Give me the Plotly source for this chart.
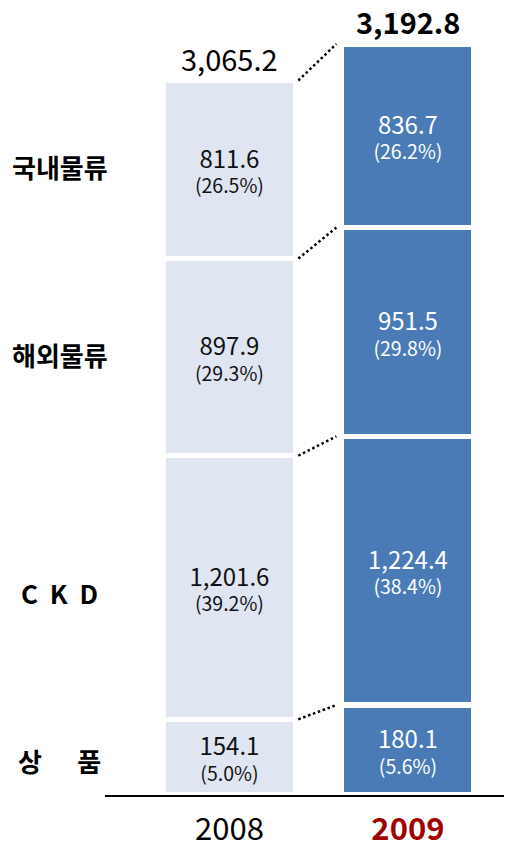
import numpy as np
import plotly.graph_objects as go

# ---------------- data ----------------
years = ["2008", "2009"]
segment_labels = ["상      품", "C  K  D", "해외물류", "국내물류"]  # bottom -> top
goods = [154.1, 180.1]
ckd = [1201.6, 1224.4]
overseas = [897.9, 951.5]
domestic = [811.6, 836.7]
goods_pct = [5.0, 5.6]
ckd_pct = [39.2, 38.4]
overseas_pct = [29.3, 29.8]
domestic_pct = [26.5, 26.2]
totals = [3065.2, 3192.8]
# the small 상품 block is drawn taller than scale in the original chart
goods_drawn = [345, 410]

# ---------------- style ----------------
FONT = "Noto Sans CJK KR"
year_fill = ["#DFE5F1", "#4A7BB7"]
year_text = ["#111111", "#FFFFFF"]
BAR_W = 0.742
x_pos = np.arange(len(years))

segments = [
    (goods_drawn, goods, goods_pct),
    (ckd, ckd, ckd_pct),
    (overseas, overseas, overseas_pct),
    (domestic, domestic, domestic_pct),
]

fig = go.Figure()
heights_all = []
for drawn, vals, pcts in segments:
    heights_all.append(drawn)
    text = [f"<span style='font-size:24px'>{v:,.1f}</span><br>({p:.1f}%)" for v, p in zip(vals, pcts)]
    fig.add_trace(go.Bar(
        x=x_pos, y=drawn, width=BAR_W,
        marker=dict(color=year_fill, line=dict(color="white", width=5.5)),
        text=text, textposition="inside", insidetextanchor="middle",
        textfont=dict(size=19.5, color=year_text, family=FONT),
        constraintext="none", hoverinfo="skip", showlegend=False,
    ))

cum = np.cumsum(np.array(heights_all, dtype=float), axis=0)  # shape (4, 2)

# dotted connectors between segment boundaries
x0 = 0 + BAR_W / 2 + 0.015
x1 = 1 - BAR_W / 2 - 0.03
for level in cum:
    fig.add_trace(go.Scatter(
        x=[x0, x1], y=[level[0], level[1]], mode="lines",
        line=dict(color="black", width=2.5, dash="2.5px,2.7px"),
        hoverinfo="skip", showlegend=False,
    ))

# totals above bars
for i, t in enumerate(totals):
    txt = f"{t:,.1f}"
    if i == 1:
        txt = f"<b>{txt}</b>"
    fig.add_annotation(x=x_pos[i], y=cum[-1][i], text=txt, showarrow=False,
                       yanchor="bottom", font=dict(size=29, color="black", family=FONT))

# category labels on the left, aligned with 2008 segment centres
mids = np.concatenate([[0], cum[:, 0]])
label_shift = [-3, -5, 3, 3]
for k, lab in enumerate(segment_labels):
    y_mid = (mids[k] + mids[k + 1]) / 2
    fig.add_annotation(xref="paper", x=-0.1106, y=y_mid, text=f"<b>{lab}</b>",
                       showarrow=False, xanchor="center", yanchor="middle",
                       yshift=label_shift[k],
                       font=dict(size=26, color="black", family=FONT))

fig.update_layout(
    width=504, height=841,
    margin=dict(l=97, r=0, t=0, b=44),
    barmode="stack",
    plot_bgcolor="white", paper_bgcolor="white",
    font=dict(family=FONT),
    xaxis=dict(range=[-0.697, 1.583], tickvals=list(x_pos),
               ticktext=[years[0], f"<b><span style='color:#A00000'>{years[1]}</span></b>"],
               tickfont=dict(size=31, color="black", family=FONT),
               ticklabelstandoff=6,
               showline=True, linecolor="black", linewidth=2,
               showgrid=False, zeroline=False, ticks=""),
    yaxis=dict(range=[0, (805 - 8) * 4.5], visible=False, showgrid=False, zeroline=False),
)

fig.write_html("out.html")
